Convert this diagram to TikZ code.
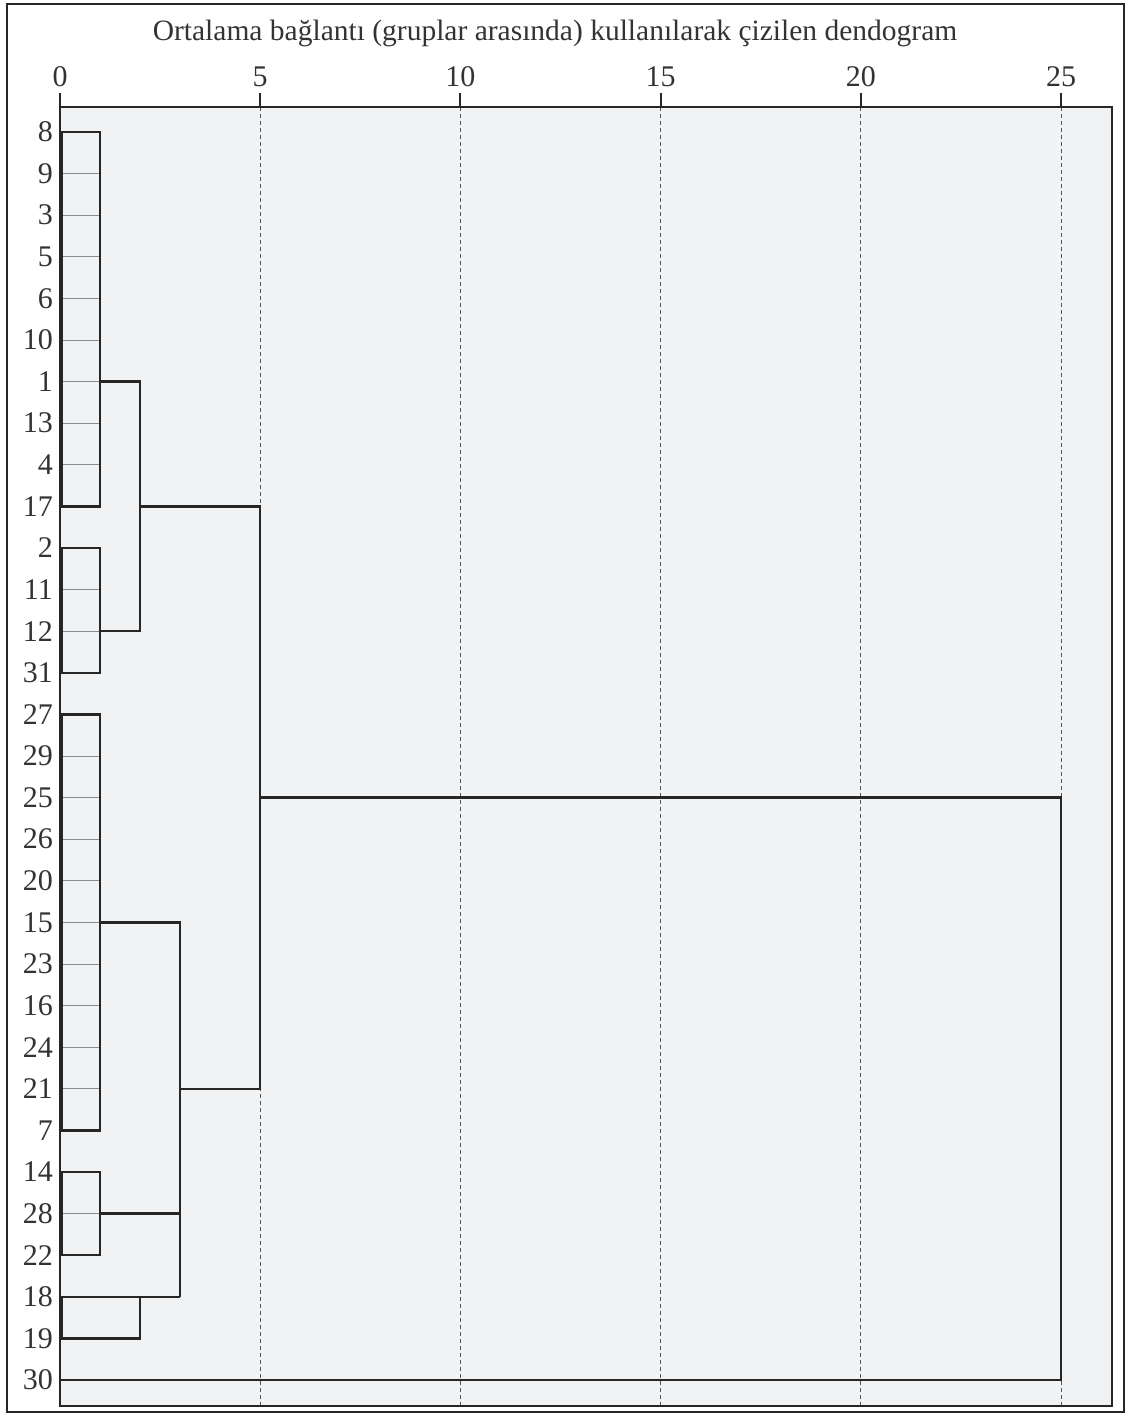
\documentclass[tikz,border=0pt]{standalone}
\usepackage{fontspec}
\setmainfont{Liberation Serif}
\usetikzlibrary{calc}
\definecolor{inkc}{HTML}{262626}
\definecolor{textc}{HTML}{333333}
\definecolor{leafc}{HTML}{8A8A8A}
\definecolor{plotbg}{HTML}{F1F2F4}
\definecolor{dashc}{HTML}{555555}
\tikzset{
  frameline/.style={draw=inkc, line width=2.2pt},
  linkline/.style={draw=inkc, line width=2.4pt, line join=miter},
  leafline/.style={draw=leafc, line width=1pt},
  gridline/.style={draw=dashc, line width=0.9pt, dash pattern=on 4pt off 3pt},
  tickline/.style={draw=inkc, line width=2pt},
  ticklabel/.style={text=textc, font=\fontsize{30}{33}\selectfont, inner sep=0pt},
  leaflabel/.style={text=textc, font=\fontsize{30}{33}\selectfont, inner sep=0pt, anchor=east},
  titlelabel/.style={text=textc, font=\fontsize{29.5}{32}\selectfont, inner sep=0pt}
}
\begin{document}
\begin{tikzpicture}[x=1pt, y=-1pt]
\useasboundingbox (0,0) rectangle (1127,1415);
% outer frame
\draw[frameline] (7,4) rectangle (1124,1412);
% plot area
\fill[plotbg] (60,107) rectangle (1112,1406);
% axis coordinates
\foreach \d in {0,1,2,3,5,10,15,20,25} {
  \coordinate (d\d) at ({60+40.04*\d},107);
}
\coordinate (dl) at (62,107);
% grid lines and ticks
\foreach \d in {5,10,15,20,25} {
  \draw[gridline] (d\d) -- ++(0,1299);
}
\foreach \d in {0,5,10,15,20,25} {
  \draw[tickline] (d\d) -- ++(0,-14);
  \node[ticklabel] (t\d) at ($(d\d)+(0,-30)$) {\d};
}
\node[titlelabel] (title) at (555,33) {Ortalama bağlantı (gruplar arasında) kullanılarak çizilen dendogram};
% leaves
\foreach \n [count=\i from 0] in {8,9,3,5,6,10,1,13,4,17,2,11,12,31,27,29,25,26,20,15,23,16,24,21,7,14,28,22,18,19,30} {
  \coordinate (r\n) at (60,{132+41.6*\i});
  \node[leaflabel] (lab\n) at ($(r\n)+(-7,0)$) {\n};
}
% thin leaf lines inside clusters
\foreach \n in {9,3,5,6,10,1,13,4,11,12,29,25,26,20,15,23,16,24,21,28} {
  \draw[leafline] (dl |- r\n) -- (d1 |- r\n);
}
% cluster boxes at distance 1
\draw[linkline] (dl |- r8) rectangle (d1 |- r17);
\draw[linkline] (dl |- r2) rectangle (d1 |- r31);
\draw[linkline] (dl |- r27) rectangle (d1 |- r7);
\draw[linkline] (dl |- r14) rectangle (d1 |- r22);
% 18-19
\draw[linkline] (d3 |- r18) -- (dl |- r18) -- (dl |- r19) -- (d2 |- r19) -- (d2 |- r18);
% upper merges
\draw[linkline] (d1 |- r1) -- (d2 |- r1) -- (d2 |- r12) -- (d1 |- r12);
\draw[linkline] (d1 |- r15) -- (d3 |- r15) -- (d3 |- r18);
\draw[linkline] (d1 |- r28) -- (d3 |- r28);
\draw[linkline] (d2 |- r17) -- (d5 |- r17) -- (d5 |- r21) -- (d3 |- r21);
\draw[linkline] (d5 |- r25) -- (d25 |- r25) -- (d25 |- r30) -- (r30);
% plot frame on top
\draw[frameline, line width=2.6pt] (60,107) rectangle (1112,1406);
\end{tikzpicture}
\end{document}
